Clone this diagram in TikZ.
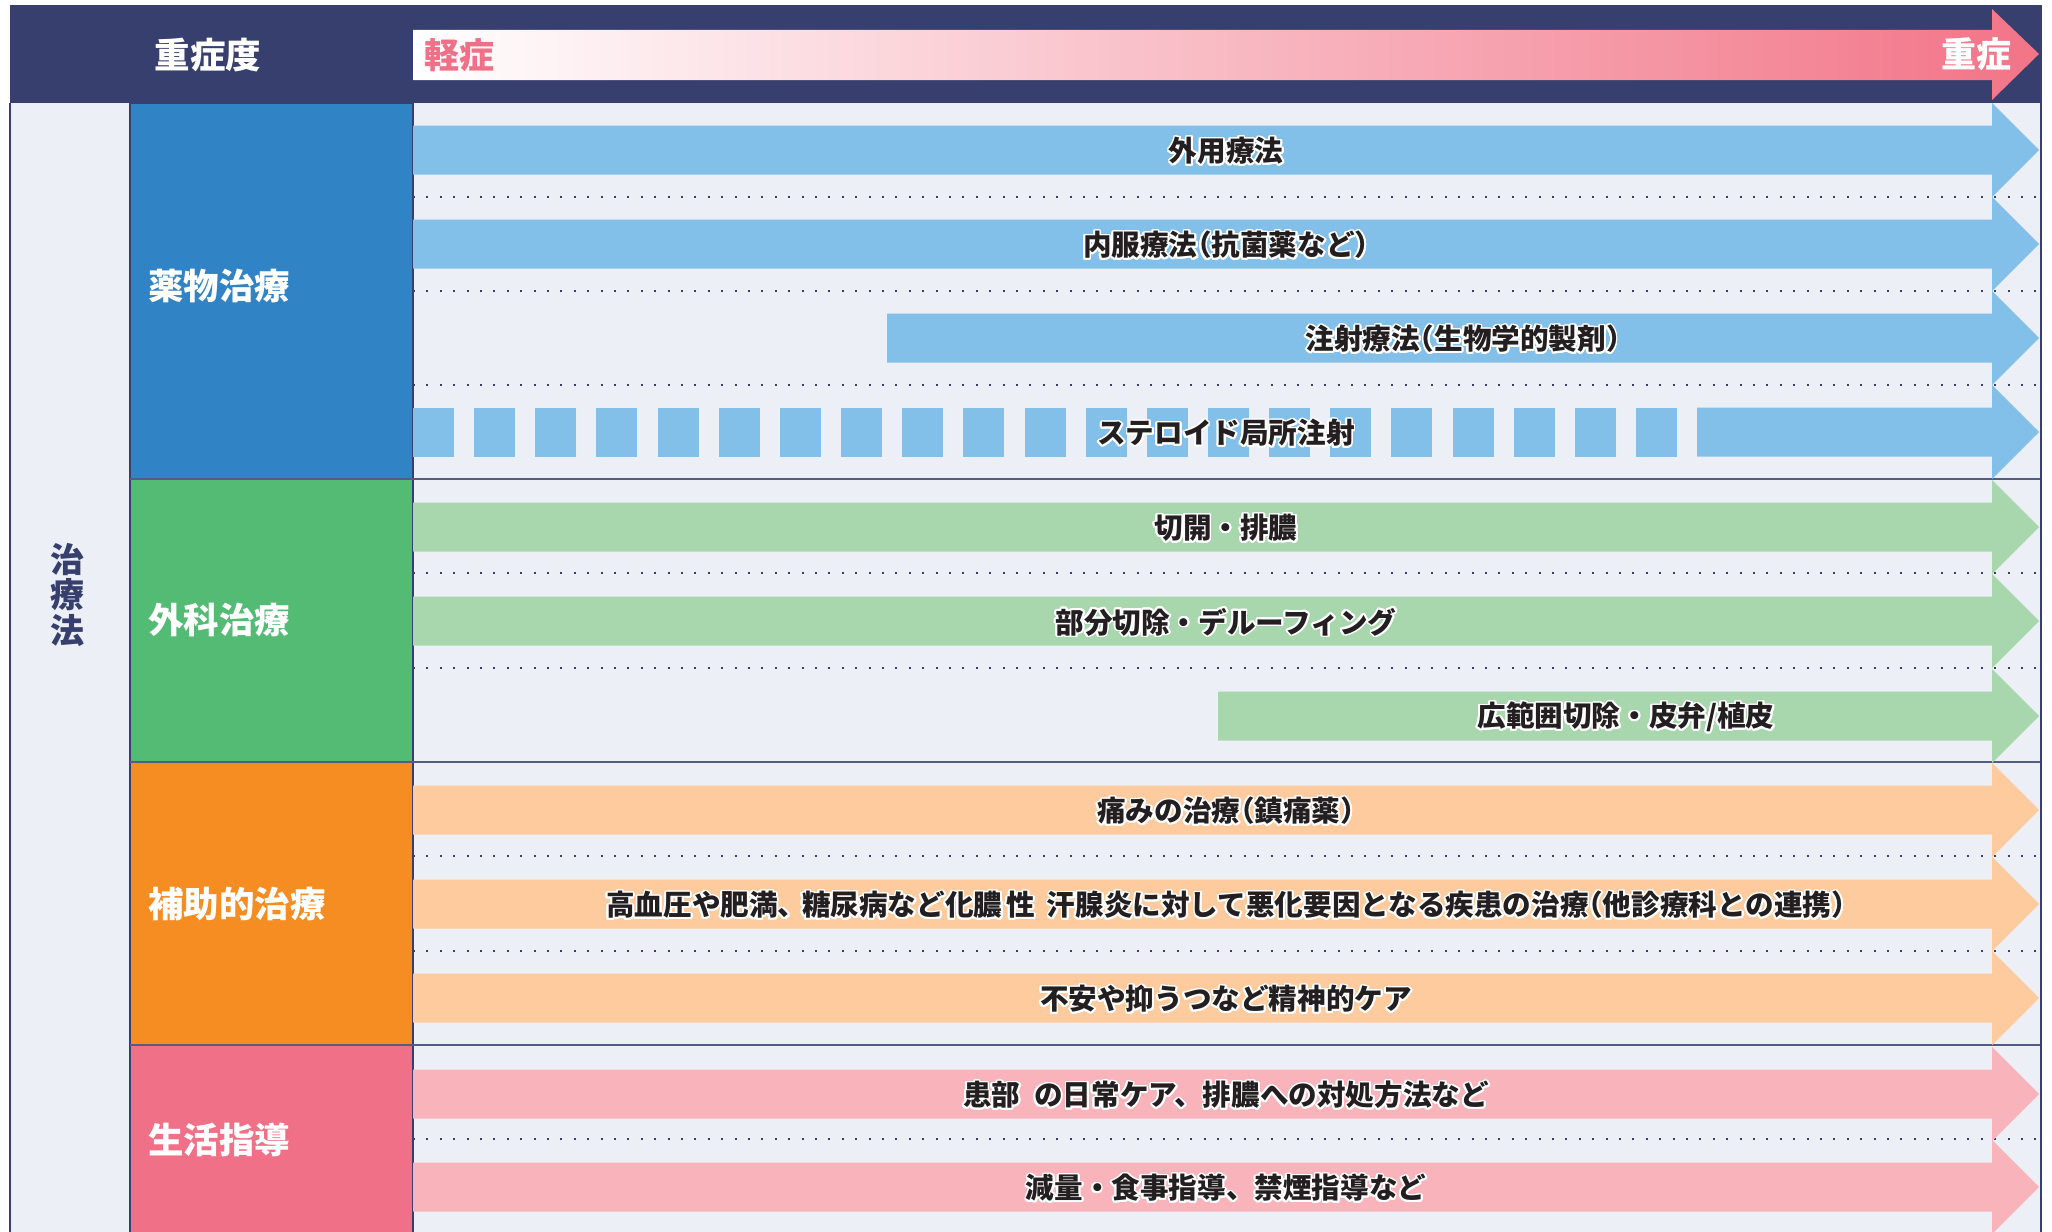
\documentclass[tikz,border=0pt]{standalone}
\usepackage{fontspec}
\setmainfont{Noto Sans CJK JP}
\usepackage{contour}
\contourlength{1.8pt}
\contournumber{24}
\definecolor{navy}{HTML}{363F6E}
\definecolor{bgc}{HTML}{ECEFF5}
\definecolor{catblue}{HTML}{3083C4}
\definecolor{lblue}{HTML}{82C0EA}
\definecolor{catgreen}{HTML}{54BB75}
\definecolor{lgreen}{HTML}{A8D7AE}
\definecolor{catorange}{HTML}{F58D22}
\definecolor{lorange}{HTML}{FDCB9D}
\definecolor{catpink}{HTML}{F07087}
\definecolor{lpink}{HTML}{F8B4BA}
\definecolor{gradpink}{HTML}{F27487}
\definecolor{txtdark}{HTML}{231F20}
\newcommand\rarrow[3]{%
  \fill[#3] (#1,#2-24.5) -- (1992,#2-24.5) -- (1992,#2-47) -- (2039,#2) -- (1992,#2+47) -- (1992,#2+24.5) -- (#1,#2+24.5) -- cycle;}
\newcommand\dotline[1]{%
  \draw[navy, line width=2pt, dash pattern=on 2pt off 11.4pt] (413,#1) -- (2041,#1);}
\newcommand\lp{\kern-.5em（}
\newcommand\rp{）\kern-.5em}
\newcommand\cl[1]{\contour{white}{#1}}
\begin{document}
\begin{tikzpicture}[x=1pt,y=-1pt,
  lbl/.style={font=\fontsize{28.6}{31}\selectfont\bfseries, text=txtdark, inner sep=0pt, yshift=-2pt},
  catlbl/.style={font=\fontsize{35.5}{38}\selectfont\bfseries, text=white, anchor=west, inner sep=0pt},
  catbox/.style={draw=navy, line width=1.5pt}]
\useasboundingbox (0,0) rectangle (2052,1231);
\fill[white] (0,0) rectangle (2052,1231);
% background
\fill[bgc] (10,103) rectangle (2041,1240);
% header
\fill[navy] (10,5) rectangle (2042,103);
\node[font=\fontsize{35.5}{38}\selectfont\bfseries, text=white, inner sep=0pt] (hdr) at (208,55) {重症度};
\path[left color=white, right color=gradpink] (413,30) -- (1992,30) -- (1992,9) -- (2039,54) -- (1992,100) -- (1992,80) -- (413,80) -- cycle;
\node[font=\fontsize{35}{38}\selectfont\bfseries, text=catpink, anchor=west, inner sep=0pt] (mild) at (424,55) {軽症};
\node[font=\fontsize{35}{38}\selectfont\bfseries, text=white, anchor=east, inner sep=0pt] (severe) at (2012,54) {重症};
% category boxes
\filldraw[catbox, fill=catblue] (130,103) rectangle (413,479);
\filldraw[catbox, fill=catgreen] (130,479) rectangle (413,762);
\filldraw[catbox, fill=catorange] (130,762) rectangle (413,1045);
\filldraw[catbox, fill=catpink] (130,1045) rectangle (413,1240);
\node[catlbl] (c1) at (148,286) {薬物治療};
\node[catlbl] (c2) at (148,620) {外科治療};
\node[catlbl] (c3) at (148,904) {補助的治療};
\node[catlbl] (c4) at (148,1140) {生活指導};
% left column
\draw[navy, line width=2pt] (10,103) -- (10,1240);
\node[font=\fontsize{34}{35.5}\selectfont\bfseries, text=navy, align=center, inner sep=0pt] (side) at (67,595) {治\\療\\法};
% dotted row lines
\foreach \yy in {197,291,385,573,668,856,951,1139} {\dotline{\yy}}
% section borders
\foreach \yy in {479,762,1045} {\draw[navy!85, line width=2.2pt] (130,\yy) -- (2042,\yy);}
\draw[navy, line width=2pt] (2041,103) -- (2041,1240);
% arrows
\rarrow{413}{150}{lblue}
\rarrow{413}{244}{lblue}
\rarrow{887}{338}{lblue}
\foreach \i in {0,...,20} {\fill[lblue] ({413+\i*61.15},407.5) rectangle +(41,49);}
\rarrow{1697}{432}{lblue}
\rarrow{413}{527}{lgreen}
\rarrow{413}{621}{lgreen}
\rarrow{1218}{716}{lgreen}
\rarrow{413}{810}{lorange}
\rarrow{413}{904}{lorange}
\rarrow{413}{998}{lorange}
\rarrow{413}{1094}{lpink}
\rarrow{413}{1187}{lpink}
% labels
\node[lbl] (t1) at (1226,150) {\cl{外用療法}};
\node[lbl] (t2) at (1226,244) {\cl{内服療法\lp 抗菌薬など\rp}};
\node[lbl] (t3) at (1463,338) {\cl{注射療法\lp 生物学的製剤\rp}};
\node[lbl] (t4) at (1226,432) {\cl{ステロイド局所注射}};
\node[lbl] (t5) at (1226,527) {\cl{切開・排膿}};
\node[lbl] (t6) at (1226,621) {\cl{部分切除・デルーフィング}};
\node[lbl] (t7) at (1626,716) {\cl{広範囲切除・皮弁/植皮}};
\node[lbl] (t8) at (1226,810) {\cl{痛みの治療\lp 鎮痛薬\rp}};
\node[lbl] (t9) at (1226,904) {\cl{高血圧や肥満、\kern-.15em 糖尿病など化膿\hspace{4pt}性\hspace{12pt}汗腺炎に対して悪化要因となる疾患の治療\lp 他診療科との連携\rp}};
\node[lbl] (t10) at (1226,998) {\cl{不安や抑うつなど精神的ケア}};
\node[lbl] (t11) at (1226,1094) {\cl{患部\hspace{14pt}の日常ケア、排膿への対処方法など}};
\node[lbl] (t12) at (1226,1187) {\cl{減量・食事指導、禁煙指導など}};
\end{tikzpicture}
\end{document}
